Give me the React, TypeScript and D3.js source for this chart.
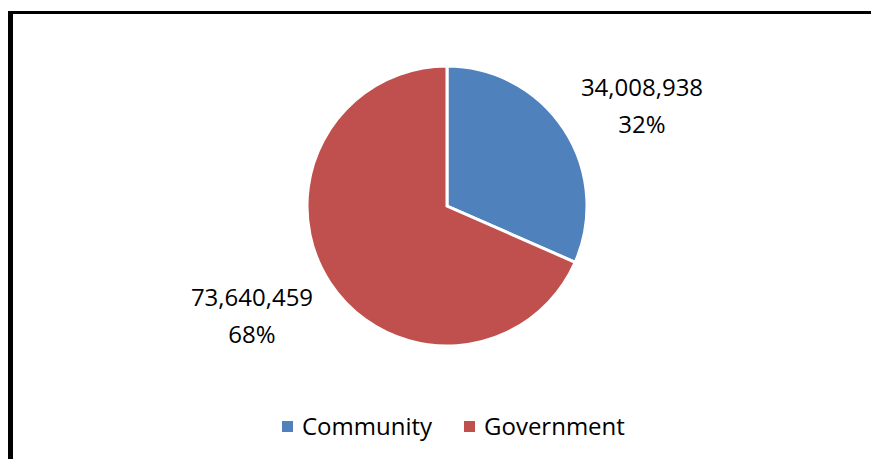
import React from "react";
import * as d3 from "d3";

const categories = ["Community", "Government"];
const values = [34008938, 73640459];
const colors = ["#4F81BD", "#C0504D"];

const W = 871;
const H = 459;
const cx = 447;
const cy = 206;
const R = 140;
const FONT = "'Open Sans', 'Noto Sans', sans-serif";
const FS = 24;

export default function App() {
  const total = d3.sum(values);
  const pie = d3.pie<number>().sort(null).value((d) => d)(values);
  const arc = d3.arc<d3.PieArcDatum<number>>().innerRadius(0).outerRadius(R);
  const fmt = d3.format(",");
  const labelPos = [
    { x: 642, y: 96 },
    { x: 252, y: 306 },
  ];
  const legendX = [282, 464];
  return (
    <svg
      width={W}
      height={H}
      style={{ position: "fixed", left: 0, top: 0, background: "#fff" }}
    >
      <rect x={0} y={0} width={W} height={H} fill="#fff" />
      <rect x={8} y={11} width={W - 8} height={3} fill="#000" />
      <rect x={8} y={11} width={5} height={H - 11} fill="#000" />
      <g transform={`translate(${cx},${cy})`}>
        {pie.map((p, i) => (
          <path key={i} d={arc(p) || ""} fill={colors[i]} stroke="#fff" strokeWidth={3} strokeLinejoin="miter" />
        ))}
      </g>
      {pie.map((p, i) => (
        <text key={i} fontFamily={FONT} fontSize={FS} fill="#000" textAnchor="middle">
          <tspan x={labelPos[i].x} y={labelPos[i].y}>{fmt(values[i])}</tspan>
          <tspan x={labelPos[i].x} y={labelPos[i].y + 37}>{d3.format(".0%")(values[i] / total)}</tspan>
        </text>
      ))}
      {categories.map((c, i) => (
        <g key={c}>
          <rect x={legendX[i]} y={421} width={11} height={11} fill={colors[i]} />
          <text x={legendX[i] + 20} y={435} fontFamily={FONT} fontSize={FS} fill="#000">{c}</text>
        </g>
      ))}
    </svg>
  );
}
